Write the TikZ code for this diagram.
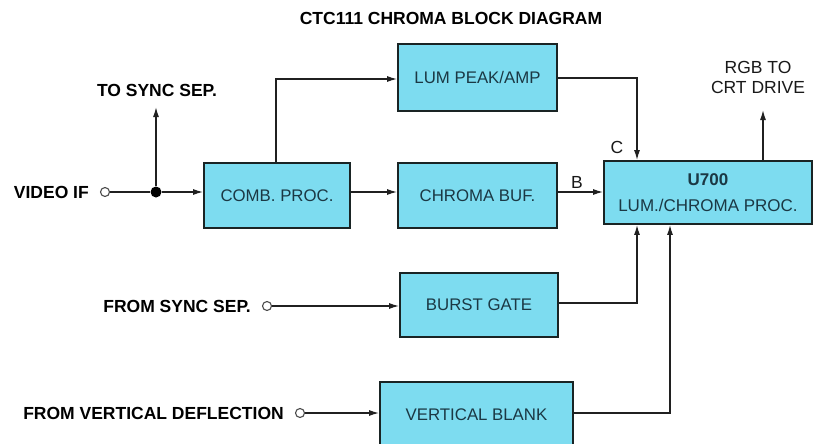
\documentclass[tikz,border=0pt]{standalone}
\usepackage{fontspec}
\setmainfont{Liberation Sans}
\usetikzlibrary{arrows.meta}
\definecolor{boxfill}{HTML}{7DDCF0}
\definecolor{boxtext}{HTML}{1B3844}
\definecolor{boxline}{HTML}{1A2424}
\definecolor{wire}{HTML}{202020}
\tikzset{
  blk/.style={draw=boxline, line width=1.8pt, fill=boxfill, text=boxtext,
    inner sep=0pt, font=\fontsize{16.8}{19}\selectfont},
  lbl/.style={inner sep=0pt, font=\fontsize{17.5}{20}\selectfont\bfseries, text=black},
  rlbl/.style={inner sep=0pt, font=\fontsize{17.5}{20}\selectfont, text=black!90},
  wr/.style={draw=wire, line width=1.3pt},
  arr/.style={wr, -{Latex[length=10pt,width=6pt]}},
  term/.style={circle, draw=black!70, line width=1.1pt, fill=white, minimum size=9pt, inner sep=0pt},
  jdot/.style={circle, fill=black, minimum size=11pt, inner sep=0pt}
}
\begin{document}
\begin{tikzpicture}[x=1pt,y=-1pt]
\useasboundingbox (0,0) rectangle (817,444);
\fill[white] (0,0) rectangle (817,444);

\node[lbl] (title) at (451,18) {CTC111 CHROMA BLOCK DIAGRAM};

% boxes
\node[blk, minimum width=159pt, minimum height=67pt] (lum) at (477.5,77.5) {LUM PEAK/AMP};
\node[blk, minimum width=146pt, minimum height=65pt] (comb) at (277,195.5) {COMB. PROC.};
\node[blk, minimum width=159pt, minimum height=65pt] (chroma) at (477.5,195.5) {CHROMA BUF.};
\node[blk, minimum width=208pt, minimum height=63pt, align=center,
      font=\fontsize{17}{26}\selectfont] (u700) at (708,192.5)
      {\textbf{U700}\\LUM./CHROMA PROC.};
\node[blk, minimum width=158pt, minimum height=64pt] (burst) at (479,305) {BURST GATE};
\node[blk, minimum width=193pt, minimum height=66pt] (vblank) at (476.5,415) {VERTICAL BLANK};

% input labels and terminals
\node[lbl, anchor=east] (vif) at (89,192) {VIDEO IF};
\node[term] (tvif) at (105,192) {};
\node[jdot] (junc) at (156,192) {};
\coordinate (syncout) at (156,107);
\node[lbl] (tosync) at (157,90) {TO SYNC SEP.};

\node[lbl, anchor=east] (fsync) at (251,306) {FROM SYNC SEP.};
\node[term] (tsync) at (267,306) {};
\node[lbl, anchor=east] (fvd) at (284,413) {FROM VERTICAL DEFLECTION};
\node[term] (tvd) at (300,413) {};

\node[rlbl] (rgb) at (758,67) {RGB TO};
\node[rlbl] (crt) at (758,87) {CRT DRIVE};
\coordinate (rgbout) at (763,110);

\node[rlbl] (lb) at (577,182) {B};
\node[rlbl] (lc) at (617,147) {C};

% connectors
\draw[wr] (tvif) -- (junc);
\draw[arr] (junc) -- (comb.west |- junc);
\draw[arr] (junc) -- (syncout);
\coordinate (combtop) at (276,0);
\draw[arr] (combtop |- comb.north) -- (combtop |- 0,79) -- (lum.west |- 0,79);
\coordinate (cx) at (637,0);
\draw[arr] (lum.east |- 0,78) -- (cx |- 0,78) -- (cx |- u700.north);
\draw[arr] (comb.east |- 0,192) -- (chroma.west |- 0,192);
\draw[arr] (chroma.east |- 0,192) -- (u700.west |- 0,192);
\draw[arr] (rgbout |- u700.north) -- (rgbout);
\draw[arr] (tsync) -- (burst.west |- tsync);
\draw[arr] (burst.east |- 0,303) -- (cx |- 0,303) -- (cx |- u700.south);
\coordinate (vx) at (670,0);
\draw[arr] (tvd) -- (vblank.west |- tvd);
\draw[arr] (vblank.east |- 0,413) -- (vx |- 0,413) -- (vx |- u700.south);
\end{tikzpicture}
\end{document}
